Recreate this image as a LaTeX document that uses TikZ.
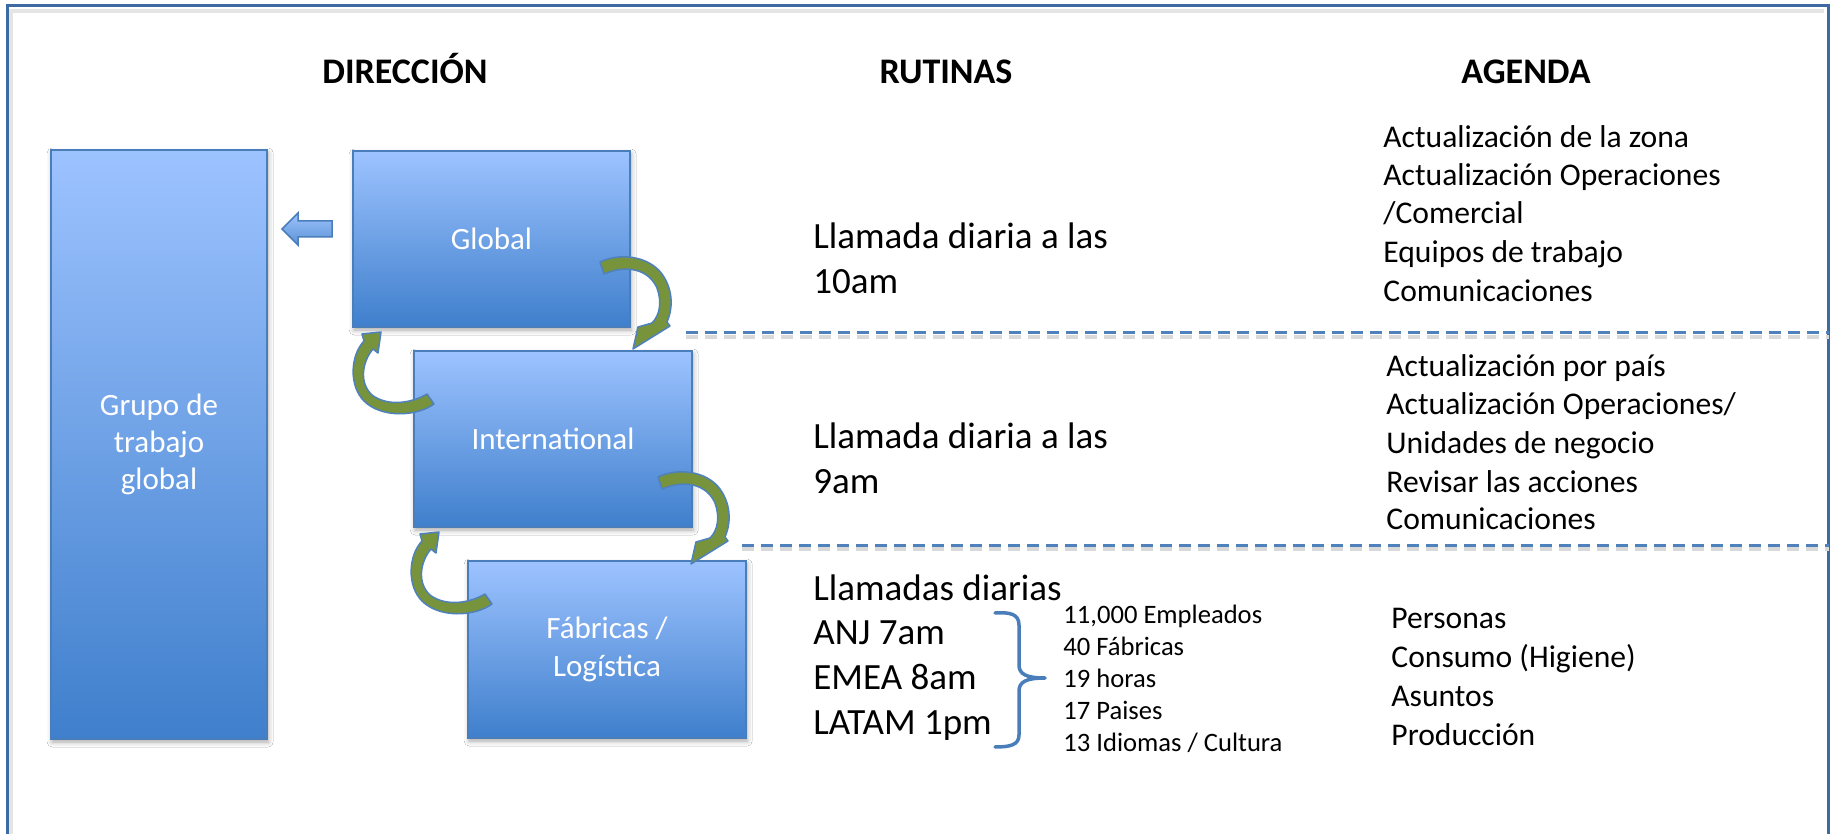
\documentclass[tikz,border=0pt]{standalone}
\usepackage{fontspec}
\setmainfont{Carlito}
\usetikzlibrary{shadows.blur}
\definecolor{boxtop}{HTML}{9DC3FF}
\definecolor{boxbot}{HTML}{3F7FCC}
\definecolor{boxline}{HTML}{4A7EBB}
\definecolor{frameblue}{HTML}{3E6AA3}
\definecolor{dashblue}{HTML}{4F81BD}
\definecolor{olivefill}{HTML}{77933C}
\definecolor{arrowline}{HTML}{4F81BD}
\definecolor{bracecol}{HTML}{4A7EBB}
\begin{document}
\begin{tikzpicture}[x=0.5pt,y=-0.5pt,
  bluebox/.style={draw=boxline, line width=1pt, top color=boxtop, bottom color=boxbot,
    text=white, align=center, font=\fontsize{15.5}{18.7}\selectfont, inner sep=0pt,
    blur shadow={shadow xshift=0.6pt, shadow yshift=-1.5pt, shadow blur radius=2.5pt, shadow opacity=35}},
  headtxt/.style={font=\bfseries\fontsize{18}{22}\selectfont, anchor=base, inner sep=0pt},
  routine/.style={font=\fontsize{18.5}{22.5}\selectfont, anchor=base west, inner sep=0pt},
  agenda/.style={font=\fontsize{15.8}{19}\selectfont, anchor=base west, inner sep=0pt},
  smalltxt/.style={font=\fontsize{13.3}{16}\selectfont, anchor=base west, inner sep=0pt},
  curved/.style={fill=olivefill, draw=arrowline, line width=0.75pt, line join=round},
  blockarrow/.style={top color=boxtop, bottom color=boxbot!85!white, draw=boxline, line width=0.75pt, line join=miter},
  sepline/.style={dashblue, line width=1.5pt, dash pattern=on 6pt off 3.5pt},
  sepshadow/.style={black!15, line width=2pt, dash pattern=on 6pt off 3.5pt},
]
\useasboundingbox (0,0) rectangle (1832,834);
\fill[white] (0,0) rectangle (1832,834);

% frame (open at the bottom)
\draw[black!10, line width=2pt] (11,845) -- (11,11) -- (1824,11);
\draw[frameblue, line width=1.5pt] (7,845) -- (7,6) -- (1828,6) -- (1828,845);

% headings
\node[headtxt] (hdir) at (405,84) {DIRECCIÓN};
\node[headtxt] (hrut) at (946,84) {RUTINAS};
\node[headtxt] (hage) at (1526,84) {AGENDA};

% boxes
\node[bluebox, minimum width=108pt, minimum height=294.5pt] (grupo) at (159,444.5) {Grupo de\\trabajo\\global};
\node[bluebox, minimum width=138.5pt, minimum height=88pt] (global) at (491.5,239) {Global};
\node[bluebox, minimum width=139pt, minimum height=88pt] (intl) at (553,439) {International};
\node[bluebox, minimum width=139pt, minimum height=88.5pt] (fab) at (607,649.5) {Fábricas /\\Logística};

% small block arrow towards the global working group
\path[blockarrow] (332,221) -- (298,221) -- (298,213) -- (282,229) -- (298,245) -- (298,237) -- (332,237) -- cycle;

% curved arrows
\path[curved] (600,262) -- (604,274) .. controls (625,265) and (648,268) .. (657,288)
  .. controls (662,302) and (660,315) .. (652,323) -- (638,327) -- (633,349) -- (670,326) -- (667,322)
  .. controls (674,306) and (672,288) .. (662,274) .. controls (648,255) and (618,253) .. (600,262) -- cycle;
\path[curved] (381,332) -- (378,353) -- (373,349) .. controls (362,362) and (359,383) .. (372,395)
  .. controls (388,407) and (412,403) .. (427,394) -- (434,404) .. controls (416,417) and (381,418) .. (364,401)
  .. controls (349,386) and (350,356) .. (364,341) -- (362,334) -- cycle;
\begin{scope}[shift={(58,215)}]
\path[curved] (600,262) -- (604,274) .. controls (625,265) and (648,268) .. (657,288)
  .. controls (662,302) and (660,315) .. (652,323) -- (638,327) -- (633,349) -- (670,326) -- (667,322)
  .. controls (674,306) and (672,288) .. (662,274) .. controls (648,255) and (618,253) .. (600,262) -- cycle;
\end{scope}
\begin{scope}[shift={(58,200)}]
\path[curved] (381,332) -- (378,353) -- (373,349) .. controls (362,362) and (359,383) .. (372,395)
  .. controls (388,407) and (412,403) .. (427,394) -- (434,404) .. controls (416,417) and (381,418) .. (364,401)
  .. controls (349,386) and (350,356) .. (364,341) -- (362,334) -- cycle;
\end{scope}

% dashed separators
\coordinate (s1a) at (686,333);
\coordinate (s1b) at (1829,333);
\coordinate (s2a) at (742,545);
\coordinate (s2b) at (1829,545);
\draw[sepshadow] ([yshift=-2pt]s1a) -- ([yshift=-2pt]s1b);
\draw[sepshadow] ([yshift=-2pt]s2a) -- ([yshift=-2pt]s2b);
\draw[sepline] (s1a) -- (s1b);
\draw[sepline] (s2a) -- (s2b);

% routines
\node[routine] (r1a) at (813,249) {Llamada diaria a las};
\node[routine] (r1b) at (813,294) {10am};
\node[routine] (r2a) at (813,448) {Llamada diaria a las};
\node[routine] (r2b) at (813,493) {9am};
\foreach \t/\y [count=\i] in {{Llamadas diarias}/600, {ANJ 7am}/644, {EMEA 8am}/689, {LATAM 1pm}/734}
  \node[routine] (r3-\i) at (813,\y) {\t};

% brace
\draw[bracecol, line width=1.75pt, line cap=round, line join=round]
  (995,613) .. controls (1010,612) and (1019,614) .. (1019,625) -- (1019,665)
  .. controls (1019,674) and (1026,678) .. (1045,678)
  .. controls (1026,678) and (1019,682) .. (1019,691) -- (1019,735)
  .. controls (1019,745) and (1010,747) .. (995,747);

% small facts
\foreach \t/\y [count=\i] in {{11,000 Empleados}/623, {40 Fábricas}/655, {19 horas}/687, {17 Paises}/719, {13 Idiomas / Cultura}/751}
  \node[smalltxt] (f-\i) at (1063,\y) {\t};

% agenda
\foreach \t/\y [count=\i] in {{Actualización de la zona}/148, {Actualización Operaciones}/186, {/Comercial}/224, {Equipos de trabajo}/263, {Comunicaciones}/302}
  \node[agenda] (ga-\i) at (1383,\y) {\t};
\foreach \t/\y [count=\i] in {{Actualización por país}/377, {Actualización Operaciones/}/415, {Unidades de negocio}/453, {Revisar las acciones}/492, {Comunicaciones}/529}
  \node[agenda] (gb-\i) at (1386,\y) {\t};
\foreach \t/\y [count=\i] in {{Personas}/628, {Consumo (Higiene)}/667, {Asuntos}/706, {Producción}/745}
  \node[agenda] (gc-\i) at (1391,\y) {\t};
\end{tikzpicture}
\end{document}
